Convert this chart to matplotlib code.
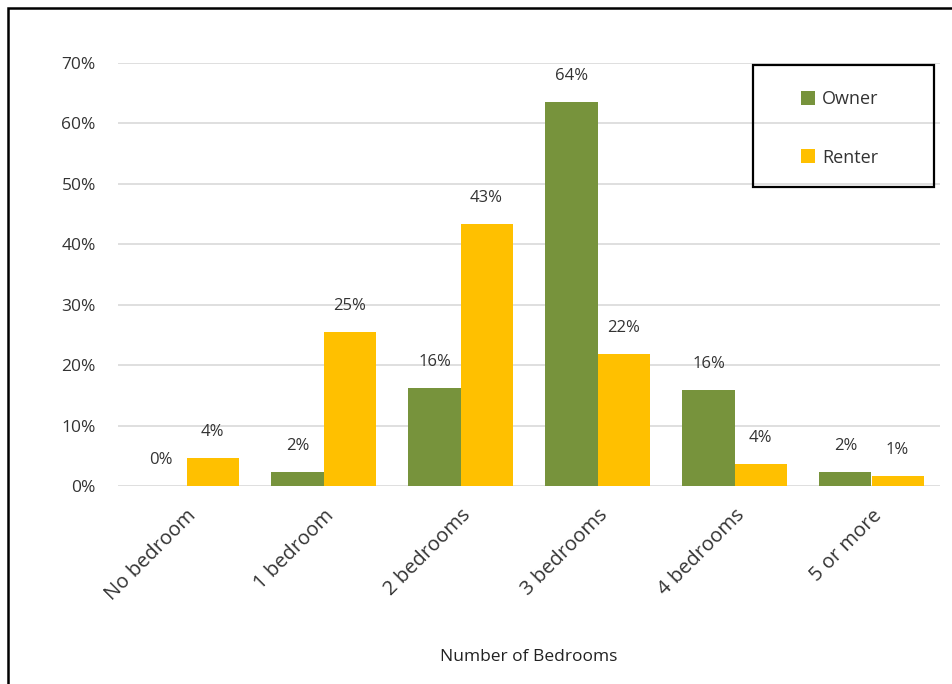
import numpy as np
import matplotlib
matplotlib.use("Agg")
import matplotlib.pyplot as plt
from matplotlib.patches import Rectangle

categories = ["No bedroom", "1 bedroom", "2 bedrooms", "3 bedrooms", "4 bedrooms", "5 or more"]
owner = [0.0, 2.3, 16.2, 63.6, 15.9, 2.3]
renter = [4.6, 25.5, 43.4, 21.9, 3.6, 1.6]
owner_labels = ["0%", "2%", "16%", "64%", "16%", "2%"]
renter_labels = ["4%", "25%", "43%", "22%", "4%", "1%"]
yticks = [0, 10, 20, 30, 40, 50, 60, 70]

W, H = 952, 684


def main():
    plt.rcParams['font.family'] = ['Open Sans', 'DejaVu Sans']
    fig = plt.figure(figsize=(W / 100, H / 100), dpi=100)
    ax = fig.add_axes([118 / W, 1 - 486 / H, (940 - 118) / W, (486 - 63) / H])

    x = np.arange(len(categories))
    w = 0.38
    b1 = ax.bar(x - w / 2, owner, w, color="#77933C", label="Owner", zorder=3)
    b2 = ax.bar(x + w / 2, renter, w, color="#FFC000", label="Renter", zorder=3)
    ax.bar_label(b1, labels=owner_labels, padding=13, fontsize=12, color="#333333")
    ax.bar_label(b2, labels=renter_labels, padding=13, fontsize=12, color="#333333")

    ax.set_xlim(-0.5, len(categories) - 0.5)
    ax.set_ylim(0, 70)
    ax.set_yticks(yticks)
    ax.set_yticklabels([f"{t}%" for t in yticks], fontsize=12.5, color="#333333")
    ax.set_xticks(x)
    ax.set_xticklabels(categories, rotation=45, ha="right", rotation_mode="anchor",
                       fontsize=14.5, color="#333333")
    ax.tick_params(axis="both", length=0)
    ax.tick_params(axis="y", pad=16)
    ax.tick_params(axis="x", pad=14)
    ax.yaxis.grid(True, color="#D9D9D9", linewidth=1.2, zorder=0)
    for s in ax.spines.values():
        s.set_visible(False)

    ax.set_xlabel("Number of Bedrooms", fontsize=12.5, color="#222222")
    ax.xaxis.set_label_coords(0.5, (486 - 649) / (486 - 63))

    # legend entries without frame, frame drawn as a box around them
    leg = fig.legend(loc="upper left", bbox_to_anchor=(792 / W, 1 - 81 / H), fontsize=13,
                     frameon=False, handlelength=0.8, handleheight=0.8,
                     handletextpad=0.35, labelspacing=2.25, borderpad=0)
    for t in leg.get_texts():
        t.set_color("#333333")
    fig.patches.append(Rectangle((753 / W, 1 - 187 / H), (934 - 753) / W, (187 - 65) / H,
                                 transform=fig.transFigure, fill=False,
                                 edgecolor="black", linewidth=1.6, zorder=5))

    fig.patches.append(Rectangle((8 / W, -0.1), 2.0, 1 - 8 / H + 0.1,
                                 transform=fig.transFigure, fill=False,
                                 edgecolor="black", linewidth=1.8))

    fig.savefig("out.png", dpi=100)


if __name__ == '__main__': main()
